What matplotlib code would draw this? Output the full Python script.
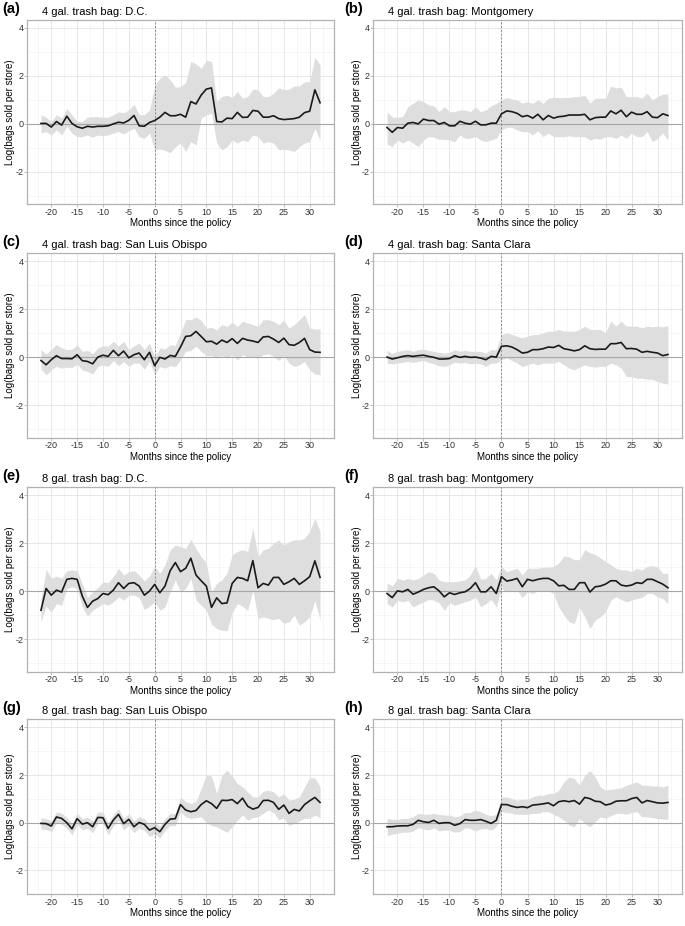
import numpy as np
import matplotlib
matplotlib.use("Agg")
import matplotlib.pyplot as plt

plt.rcParams['font.family'] = ['Liberation Sans', 'DejaVu Sans']
plt.rcParams['axes.unicode_minus'] = False

months = np.arange(-22, 33)

# (a) 4 gal. D.C.
a_est = [0.02, 0.02, -0.13, 0.10, -0.05, 0.32, 0.02, -0.12, -0.18, -0.10, -0.13, -0.10, -0.10, -0.08, 0.00, 0.07, 0.04, 0.15, 0.35, -0.08, -0.10, 0.06,
         0.14, 0.28, 0.48, 0.34, 0.34, 0.40, 0.28, 0.93, 0.83, 1.20, 1.45, 1.50, 0.10, 0.08, 0.24, 0.22, 0.48, 0.27, 0.28, 0.56, 0.53, 0.28, 0.28, 0.34, 0.22, 0.18, 0.20, 0.22, 0.28, 0.47, 0.53, 1.42, 0.88]
a_hi = [0.38, 0.28, 0.10, 0.38, 0.24, 0.65, 0.38, 0.10, 0.10, 0.28, 0.30, 0.30, 0.28, 0.28, 0.38, 0.50, 0.47, 0.58, 0.83, 0.38, 0.38, 0.58,
        1.58, 1.90, 2.05, 1.83, 1.53, 1.55, 1.72, 2.60, 2.50, 2.32, 2.65, 2.60, 0.93, 1.14, 1.20, 1.10, 1.35, 1.07, 1.14, 1.45, 1.42, 1.14, 1.14, 1.28, 1.50, 1.42, 1.45, 1.58, 1.58, 1.76, 1.76, 2.78, 2.46]
a_lo = [-0.38, -0.32, -0.46, -0.25, -0.46, -0.10, -0.38, -0.53, -0.53, -0.46, -0.55, -0.46, -0.50, -0.46, -0.38, -0.32, -0.42, -0.28, -0.18, -0.53, -0.60, -0.38,
        -1.08, -1.05, -1.10, -1.20, -0.95, -0.80, -1.15, -0.74, -0.88, 0.24, 0.38, 0.45, -0.80, -1.08, -0.95, -0.67, -0.80, -0.67, -0.74, -0.46, -0.53, -0.80, -0.74, -0.80, -1.08, -1.05, -1.08, -1.15, -0.95, -0.80, -0.74, -0.20, -0.67]

# (b) 4 gal. Montgomery
b_est = [-0.15, -0.35, -0.15, -0.18, 0.03, 0.06, 0.00, 0.20, 0.14, 0.14, -0.01, 0.06, -0.08, -0.08, 0.11, 0.03, -0.01, 0.11, -0.04, -0.04, 0.03, 0.03,
         0.42, 0.54, 0.51, 0.44, 0.30, 0.35, 0.24, 0.40, 0.17, 0.35, 0.24, 0.30, 0.32, 0.37, 0.37, 0.37, 0.40, 0.17, 0.26, 0.28, 0.28, 0.54, 0.42, 0.57, 0.30, 0.49, 0.40, 0.40, 0.51, 0.28, 0.26, 0.42, 0.35]
b_hi = [0.51, 0.28, 0.28, 0.30, 0.72, 0.86, 1.00, 0.93, 0.79, 0.75, 0.51, 0.72, 0.51, 0.51, 0.58, 0.58, 0.51, 0.70, 0.51, 0.58, 0.75, 0.86,
        1.00, 1.10, 1.03, 1.00, 0.86, 0.93, 0.86, 1.00, 0.86, 1.07, 1.10, 1.10, 1.10, 1.10, 1.14, 1.14, 1.20, 0.86, 1.07, 1.07, 1.07, 1.58, 1.50, 1.53, 1.14, 1.14, 1.14, 1.07, 1.28, 1.00, 1.14, 1.24, 1.24]
b_lo = [-0.83, -0.95, -0.67, -0.80, -0.67, -0.80, -0.95, -0.67, -0.53, -0.55, -0.64, -0.64, -0.67, -0.74, -0.46, -0.60, -0.60, -0.53, -0.67, -0.74, -0.67, -0.60,
        -0.25, -0.14, -0.14, -0.25, -0.32, -0.32, -0.46, -0.28, -0.53, -0.38, -0.53, -0.53, -0.53, -0.50, -0.53, -0.53, -0.53, -0.67, -0.60, -0.64, -0.53, -0.53, -0.60, -0.46, -0.60, -0.38, -0.53, -0.53, -0.32, -0.74, -0.60, -0.38, -0.67]

# (c) 4 gal. San Luis Obispo
c_est = [-0.14, -0.32, -0.11, 0.06, -0.06, -0.06, -0.07, 0.10, -0.15, -0.18, -0.28, 0.00, 0.08, 0.03, 0.28, 0.06, 0.25, -0.03, 0.10, 0.17, -0.11, 0.20,
         -0.36, -0.01, -0.08, 0.07, 0.03, 0.42, 0.86, 0.89, 1.07, 0.86, 0.64, 0.66, 0.54, 0.71, 0.61, 0.77, 0.57, 0.78, 0.71, 0.67, 0.61, 0.84, 0.86, 0.75, 0.61, 0.79, 0.52, 0.49, 0.61, 0.78, 0.31, 0.21, 0.20]
c_hi = [0.31, 0.14, 0.33, 0.52, 0.38, 0.31, 0.33, 0.52, 0.24, 0.28, 0.14, 0.38, 0.47, 0.45, 0.66, 0.47, 0.66, 0.31, 0.47, 0.59, 0.31, 0.59,
        0.00, 0.38, 0.33, 0.52, 0.49, 1.00, 1.56, 1.56, 1.67, 1.53, 1.21, 1.24, 1.14, 1.35, 1.28, 1.45, 1.28, 1.49, 1.42, 1.35, 1.28, 1.56, 1.56, 1.49, 1.35, 1.53, 1.21, 1.35, 1.56, 1.77, 1.21, 1.17, 1.17]
c_lo = [-0.50, -0.74, -0.53, -0.39, -0.46, -0.42, -0.43, -0.29, -0.53, -0.60, -0.70, -0.39, -0.32, -0.39, -0.14, -0.36, -0.18, -0.39, -0.25, -0.25, -0.50, -0.18,
        -0.74, -0.39, -0.46, -0.36, -0.39, -0.11, 0.24, 0.28, 0.45, 0.24, 0.06, 0.06, -0.04, 0.06, -0.04, 0.10, -0.11, 0.10, 0.00, -0.01, -0.04, 0.10, 0.14, 0.03, -0.14, 0.06, -0.25, -0.39, -0.32, -0.18, -0.53, -0.70, -0.74]

# (d) 4 gal. Santa Clara
d_est = [0.00, -0.08, -0.03, 0.03, 0.06, 0.03, 0.06, 0.08, 0.03, -0.01, -0.08, -0.08, -0.06, 0.06, -0.01, 0.03, -0.01, 0.00, -0.04, -0.11, 0.03, 0.00,
         0.45, 0.47, 0.42, 0.31, 0.17, 0.20, 0.31, 0.31, 0.35, 0.42, 0.40, 0.49, 0.35, 0.31, 0.26, 0.31, 0.47, 0.35, 0.32, 0.33, 0.33, 0.56, 0.56, 0.61, 0.35, 0.36, 0.33, 0.20, 0.24, 0.20, 0.17, 0.06, 0.11]
d_hi = [0.28, 0.14, 0.24, 0.28, 0.31, 0.24, 0.31, 0.33, 0.28, 0.24, 0.20, 0.17, 0.20, 0.31, 0.24, 0.28, 0.24, 0.24, 0.24, 0.17, 0.31, 0.31,
        0.94, 1.01, 0.94, 0.87, 0.80, 0.87, 0.94, 0.94, 1.01, 1.08, 1.08, 1.15, 1.08, 1.08, 1.08, 1.15, 1.29, 1.15, 1.15, 1.15, 1.01, 1.50, 1.29, 1.50, 1.29, 1.29, 1.29, 1.22, 1.29, 1.26, 1.29, 1.26, 1.31]
d_lo = [-0.25, -0.28, -0.25, -0.22, -0.18, -0.22, -0.18, -0.14, -0.22, -0.28, -0.36, -0.39, -0.32, -0.21, -0.25, -0.22, -0.28, -0.25, -0.28, -0.39, -0.25, -0.25,
        -0.11, -0.04, -0.14, -0.25, -0.39, -0.32, -0.25, -0.32, -0.25, -0.25, -0.25, -0.18, -0.32, -0.46, -0.53, -0.42, -0.32, -0.39, -0.42, -0.39, -0.39, -0.25, -0.32, -0.46, -0.81, -0.81, -0.88, -0.88, -0.92, -0.92, -1.02, -1.09, -1.12]

# (e) 8 gal. D.C.
e_est = [-0.80, 0.11, -0.17, 0.04, -0.04, 0.49, 0.53, 0.49, -0.21, -0.68, -0.42, -0.31, -0.10, -0.15, 0.04, 0.35, 0.11, 0.32, 0.35, 0.21, -0.17, 0.00,
         0.28, -0.07, 0.21, 0.85, 1.19, 0.81, 0.95, 1.37, 0.67, 0.43, 0.21, -0.68, -0.28, -0.52, -0.49, 0.32, 0.57, 0.53, 0.43, 1.27, 0.14, 0.32, 0.25, 0.57, 0.57, 0.28, 0.39, 0.53, 0.28, 0.43, 0.60, 1.26, 0.57]
e_hi = [-0.35, 0.91, 0.53, 0.63, 0.53, 0.85, 0.88, 0.85, 0.29, -0.26, -0.03, 0.15, 0.39, 0.35, 0.60, 0.95, 0.67, 0.81, 0.85, 0.67, 0.43, 0.63,
        1.02, 0.74, 1.09, 1.72, 1.92, 1.85, 1.78, 2.16, 1.78, 1.44, 1.16, -0.03, 0.32, 0.46, 0.74, 1.51, 1.65, 1.72, 1.65, 2.62, 1.44, 1.72, 1.78, 1.99, 2.13, 1.92, 2.06, 2.13, 2.13, 2.20, 2.48, 3.03, 2.48]
e_lo = [-1.28, -0.63, -0.87, -0.52, -0.59, 0.11, 0.18, 0.11, -0.66, -1.05, -0.80, -0.66, -0.52, -0.59, -0.45, -0.24, -0.38, -0.17, -0.17, -0.26, -0.77, -0.63,
        -0.45, -0.80, -0.66, -0.03, 0.46, -0.03, 0.11, 0.53, -0.38, -0.59, -0.80, -1.38, -1.56, -1.63, -1.66, -0.91, -0.52, -0.63, -0.80, 0.04, -1.14, -1.07, -1.14, -1.19, -1.14, -1.35, -1.28, -1.00, -1.42, -1.28, -1.07, -0.38, -1.19]

# (f) 8 gal. Montgomery
f_est = [-0.10, -0.27, 0.01, -0.03, 0.07, -0.13, -0.04, 0.07, 0.14, 0.18, 0.01, -0.24, -0.07, -0.14, -0.07, -0.03, 0.11, 0.35, -0.03, -0.03, 0.18, -0.10,
         0.60, 0.42, 0.46, 0.53, 0.18, 0.49, 0.43, 0.49, 0.53, 0.53, 0.43, 0.22, 0.24, 0.07, 0.07, 0.35, 0.35, -0.04, 0.18, 0.21, 0.29, 0.43, 0.43, 0.25, 0.21, 0.25, 0.35, 0.32, 0.49, 0.49, 0.39, 0.29, 0.14]
f_hi = [0.35, 0.21, 0.53, 0.46, 0.53, 0.46, 0.53, 0.67, 0.81, 0.74, 0.46, 0.39, 0.39, 0.39, 0.43, 0.46, 0.67, 1.06, 0.49, 0.53, 0.74, 0.46,
        1.03, 0.81, 0.88, 0.95, 0.67, 0.95, 0.95, 0.95, 1.00, 1.00, 1.03, 1.17, 1.46, 1.43, 1.31, 1.31, 1.73, 1.59, 1.53, 1.38, 1.24, 1.10, 0.95, 0.88, 0.88, 0.81, 0.95, 0.88, 1.03, 1.06, 1.00, 0.74, 0.74]
f_lo = [-0.52, -0.66, -0.38, -0.45, -0.38, -0.66, -0.55, -0.45, -0.35, -0.38, -0.49, -0.80, -0.49, -0.59, -0.52, -0.45, -0.38, -0.24, -0.66, -0.52, -0.35, -0.66,
        0.11, -0.03, 0.01, 0.04, -0.27, -0.03, -0.10, 0.01, 0.01, 0.01, -0.10, -0.66, -1.00, -1.28, -1.35, -0.66, -1.07, -1.56, -1.21, -1.07, -0.87, -0.38, -0.24, -0.35, -0.45, -0.38, -0.31, -0.27, -0.10, -0.10, -0.24, -0.31, -0.52]

# (g) 8 gal. San Luis Obispo
g_est = [-0.03, -0.04, -0.14, 0.24, 0.18, 0.00, -0.26, 0.17, -0.06, 0.00, -0.17, 0.22, 0.21, -0.24, 0.11, 0.35, -0.04, 0.14, -0.17, 0.01, -0.07, -0.31,
         -0.21, -0.38, -0.07, 0.15, 0.17, 0.76, 0.53, 0.46, 0.51, 0.76, 0.92, 0.80, 0.60, 0.94, 0.93, 0.97, 0.80, 1.03, 0.69, 0.57, 0.64, 0.93, 0.94, 0.85, 0.56, 0.74, 0.39, 0.56, 0.49, 0.76, 0.92, 1.06, 0.85]
g_hi = [0.20, 0.17, 0.08, 0.45, 0.40, 0.22, -0.04, 0.40, 0.17, 0.24, 0.06, 0.45, 0.45, 0.00, 0.34, 0.58, 0.20, 0.38, 0.08, 0.25, 0.17, -0.06,
        0.03, -0.14, 0.17, 0.39, 0.39, 1.08, 0.88, 0.80, 0.90, 1.43, 2.00, 1.96, 1.22, 1.99, 2.20, 1.96, 1.64, 1.50, 1.29, 1.08, 1.08, 1.32, 1.36, 1.29, 1.08, 1.22, 0.94, 0.99, 1.08, 1.50, 1.88, 1.88, 1.50]
g_lo = [-0.27, -0.28, -0.38, 0.00, -0.06, -0.24, -0.50, -0.08, -0.30, -0.24, -0.42, -0.02, -0.04, -0.50, -0.14, 0.10, -0.30, -0.12, -0.42, -0.24, -0.32, -0.58,
        -0.48, -0.64, -0.33, -0.12, -0.12, 0.46, 0.25, 0.18, 0.21, 0.25, 0.01, -0.12, -0.17, -0.30, -0.40, -0.17, 0.11, 0.32, 0.11, 0.21, 0.25, 0.39, 0.53, 0.43, 0.11, 0.21, -0.12, -0.03, 0.07, 0.18, 0.18, 0.32, 0.21]

# (h) 8 gal. Santa Clara
h_est = [-0.17, -0.17, -0.14, -0.13, -0.13, -0.07, 0.10, 0.04, 0.01, 0.10, -0.03, 0.00, 0.00, -0.11, -0.04, 0.13, 0.10, 0.10, 0.13, 0.06, -0.03, 0.10,
         0.76, 0.76, 0.69, 0.64, 0.67, 0.63, 0.74, 0.76, 0.79, 0.83, 0.71, 0.88, 0.92, 0.88, 0.93, 0.78, 1.06, 1.01, 0.90, 0.88, 0.74, 0.79, 0.90, 0.92, 0.92, 1.01, 1.06, 0.83, 0.93, 0.88, 0.83, 0.82, 0.85]
h_hi = [0.18, 0.14, 0.14, 0.18, 0.18, 0.25, 0.39, 0.35, 0.35, 0.39, 0.35, 0.32, 0.32, 0.25, 0.29, 0.43, 0.43, 0.53, 0.46, 0.35, 0.29, 0.35,
        1.08, 1.08, 1.01, 0.94, 0.99, 0.99, 1.08, 1.15, 1.15, 1.22, 1.22, 1.36, 1.71, 1.92, 1.85, 1.57, 1.99, 2.19, 1.92, 1.50, 1.36, 1.40, 1.43, 1.46, 1.57, 1.64, 1.71, 1.57, 1.57, 1.54, 1.54, 1.50, 1.57]
h_lo = [-0.54, -0.49, -0.44, -0.40, -0.40, -0.35, -0.21, -0.26, -0.31, -0.21, -0.35, -0.31, -0.31, -0.40, -0.37, -0.21, -0.24, -0.35, -0.26, -0.24, -0.31, -0.17,
        0.46, 0.43, 0.39, 0.35, 0.35, 0.35, 0.39, 0.39, 0.46, 0.46, 0.35, 0.25, 0.11, -0.10, -0.17, 0.18, -0.03, -0.17, 0.04, 0.25, 0.18, 0.29, 0.39, 0.39, 0.35, 0.43, 0.46, 0.25, 0.25, 0.21, 0.18, 0.15, 0.15]

letters = ['(a)', '(b)', '(c)', '(d)', '(e)', '(f)', '(g)', '(h)']
titles = ['4 gal. trash bag: D.C.', '4 gal. trash bag: Montgomery',
          '4 gal. trash bag: San Luis Obispo', '4 gal. trash bag: Santa Clara',
          '8 gal. trash bag: D.C.', '8 gal. trash bag: Montgomery',
          '8 gal. trash bag: San Luis Obispo', '8 gal. trash bag: Santa Clara']
series = [(a_est, a_lo, a_hi), (b_est, b_lo, b_hi), (c_est, c_lo, c_hi), (d_est, d_lo, d_hi),
          (e_est, e_lo, e_hi), (f_est, f_lo, f_hi), (g_est, g_lo, g_hi), (h_est, h_lo, h_hi)]

W, H = 685, 926
col_left = [27, 373]
col_width = [307, 309]
row_top = [19.5, 252.7, 486.7, 719]
y_top = 4.35
row_ybottom = [-3.35, -3.35, -3.35, -2.95]   # bottom row is cropped a bit in the original
px_per_unit = 24.0


def _plot_panel(ax, est, lo, hi, ybottom):
    ax.set_xlim(-24.7, 34.7)
    ax.set_ylim(ybottom, y_top)
    ax.set_xticks(np.arange(-20, 31, 5))
    ax.set_xticks(np.arange(-22.5, 33, 5), minor=True)
    ax.set_yticks([-2, 0, 2, 4])
    ax.set_yticks([-3, -1, 1, 3], minor=True)
    ax.grid(which='major', color='#e3e3e3', linewidth=0.6)
    ax.grid(which='minor', color='#efefef', linewidth=0.4)
    ax.set_axisbelow(True)

    ax.fill_between(months, lo, hi, color='#dedede', linewidth=0, zorder=2)
    ax.axhline(0, color='#a6a6a6', linewidth=0.8, zorder=3)
    ax.axvline(0, color='#808080', linewidth=0.6, linestyle=(0, (2.5, 2)), zorder=3)
    ax.plot(months, est, color='#1a1a1a', linewidth=1.2, zorder=4)

    for s in ax.spines.values():
        s.set_color('#b3b3b3')
        s.set_linewidth(0.9)
    ax.tick_params(which='major', length=2, width=0.6, color='#b3b3b3',
                   labelsize=6.5, labelcolor='#333333', pad=0.6)
    ax.tick_params(which='minor', length=0)
    ax.set_xlabel('Months since the policy', fontsize=7)
    ax.set_ylabel('Log(bags sold per store)', fontsize=7)


fig = plt.figure(figsize=(W / 100, H / 100), dpi=100)

for i, (est, lo, hi) in enumerate(series):
    r, c = i // 2, i % 2
    left, top, w = col_left[c], row_top[r], col_width[c]
    h = (y_top - row_ybottom[r]) * px_per_unit
    ax = fig.add_axes([left / W, 1 - (top + h) / H, w / W, h / H])
    _plot_panel(ax, est, lo, hi, row_ybottom[r])
    ax.xaxis.set_label_coords(0.5, -14 / h)
    ax.yaxis.set_label_coords(((15 if c == 0 else 362) - left) / w, 0.5)

    fig.text((2 if c == 0 else 344) / W, 1 - (top - 11) / H, letters[i],
             fontsize=10.5, fontweight='bold', va='center', ha='left')
    fig.text((left + 15) / W, 1 - (top - 7.5) / H, titles[i],
             fontsize=8, va='center', ha='left')

fig.savefig('out.png', dpi=100)
